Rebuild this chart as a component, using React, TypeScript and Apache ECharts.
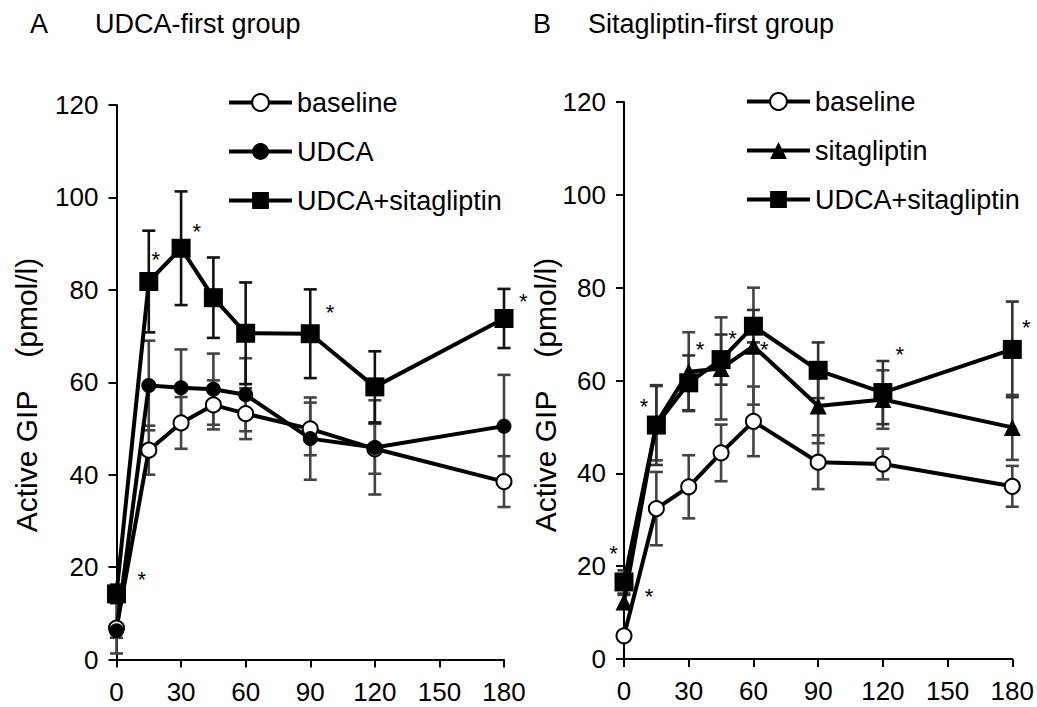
import React, { useEffect, useRef } from "react";
import * as echarts from "echarts";

const FONT = "'Liberation Sans', Arial, sans-serif";

const timePoints = [0, 15, 30, 45, 60, 90, 120, 180];

// Panel A: UDCA-first group
const baselineA = [6.8, 45.3, 51.2, 55.1, 53.2, 49.9, 45.6, 38.5];
const baselineASd = [5.5, 5.3, 5.6, 5.3, 5.5, 5.7, 5.4, 5.5];
const udcaA = [6.2, 59.3, 58.8, 58.5, 57.3, 47.8, 45.9, 50.5];
const udcaASd = [1.5, 9.7, 8.3, 7.7, 7.9, 8.9, 10.2, 11.1];
const comboA = [14.2, 81.8, 89.0, 78.3, 70.6, 70.5, 59.0, 73.8];
const comboASd = [2.0, 11.0, 12.3, 8.7, 11.0, 9.6, 7.7, 6.4];
const starsA = [[18.3, 87.6], [37.3, 93.6], [99.2, 76.1], [189, 78.5], [11.7, 18.3]];

// Panel B: Sitagliptin-first group
const baselineB = [5.0, 32.4, 37.1, 44.4, 51.2, 42.4, 42.0, 37.2];
const baselineBSd = [1.0, 7.9, 6.8, 6.1, 7.5, 5.8, 3.3, 4.4];
const sitaB = [12.3, 50.8, 61.9, 62.6, 67.4, 54.5, 55.9, 49.9];
const sitaBSd = [1.5, 8.0, 8.5, 11.0, 12.6, 8.0, 6.3, 7.0];
const comboB = [16.6, 50.4, 59.5, 64.5, 71.7, 62.2, 57.4, 66.7];
const comboBSd = [2.5, 8.6, 5.9, 5.4, 3.5, 6.0, 6.8, 10.3];
const starsB = [[9.3, 55.5], [35.2, 67.7], [50.3, 70.1], [65, 67.7], [127.8, 66.7], [186.5, 72.4], [-4.9, 23.9], [11.6, 14.6]];

const xMin = 0, xMax = 180, xStep = 30;
const yMin = 0, yMax = 120, yStep = 20;

const legendA = ["baseline", "UDCA", "UDCA+sitagliptin"];
const legendB = ["baseline", "sitagliptin", "UDCA+sitagliptin"];

const pairs = (ys: number[]) => timePoints.map((t, i) => [t, ys[i]]);
const bars = (ys: number[], sd: number[]) => timePoints.map((t, i) => [t, ys[i] - sd[i], ys[i] + sd[i]]);

function lineSeries(name: string, ys: number[], symbol: string, size: number, open: boolean, g: number) {
  return {
    type: "line",
    name,
    data: pairs(ys),
    xAxisIndex: g,
    yAxisIndex: g,
    symbol,
    symbolSize: size,
    showSymbol: true,
    clip: false,
    silent: true,
    color: "#000",
    lineStyle: { color: "#000", width: 4 },
    itemStyle: open
      ? { color: "#fff", borderColor: "#000", borderWidth: 2 }
      : { color: "#000", borderColor: "#000", borderWidth: 0 },
    z: 3,
  };
}

function errSeries(ys: number[], sd: number[], g: number, color: string) {
  return {
    type: "custom",
    xAxisIndex: g,
    yAxisIndex: g,
    silent: true,
    z: 2,
    data: bars(ys, sd),
    encode: { x: 0, y: [1, 2] },
    renderItem: (params: any, api: any) => {
      const x = api.value(0);
      const lo = api.coord([x, api.value(1)]);
      const hi = api.coord([x, api.value(2)]);
      const w = 6.5;
      const st = { stroke: color, lineWidth: 2.6 };
      return {
        type: "group",
        children: [
          { type: "line", shape: { x1: lo[0], y1: lo[1], x2: hi[0], y2: hi[1] }, style: st },
          { type: "line", shape: { x1: lo[0] - w, y1: lo[1], x2: lo[0] + w, y2: lo[1] }, style: st },
          { type: "line", shape: { x1: hi[0] - w, y1: hi[1], x2: hi[0] + w, y2: hi[1] }, style: st },
        ],
      };
    },
  };
}

function starSeries(stars: number[][], g: number) {
  return {
    type: "custom",
    xAxisIndex: g,
    yAxisIndex: g,
    silent: true,
    z: 4,
    clip: false,
    data: stars,
    renderItem: (params: any, api: any) => {
      const p = api.coord([api.value(0), api.value(1)]);
      return {
        type: "text",
        x: p[0],
        y: p[1] + 5,
        style: { text: "*", fontSize: 22, fontFamily: FONT, fill: "#000", align: "center", verticalAlign: "middle" },
      };
    },
  };
}

function xAxis(g: number) {
  return {
    type: "value",
    gridIndex: g,
    min: xMin,
    max: xMax,
    interval: xStep,
    splitLine: { show: false },
    axisLine: { show: true, onZero: false, lineStyle: { color: "#000", width: 2 } },
    axisTick: { show: true, inside: false, length: 8, lineStyle: { color: "#000", width: 2 } },
    axisLabel: { color: "#000", fontSize: 26, fontFamily: FONT, margin: 19 },
  };
}

function yAxis(g: number) {
  return {
    type: "value",
    gridIndex: g,
    min: yMin,
    max: yMax,
    interval: yStep,
    splitLine: { show: false },
    axisLine: { show: true, onZero: false, lineStyle: { color: "#000", width: 2 } },
    axisTick: { show: true, inside: false, length: 8, lineStyle: { color: "#000", width: 2 } },
    axisLabel: { color: "#000", fontSize: 26, fontFamily: FONT, margin: 18 },
  };
}

function legend(data: string[], left: number, top: number) {
  return {
    data,
    orient: "vertical",
    left,
    top,
    padding: 0,
    itemWidth: 63,
    itemHeight: 21,
    itemGap: 22,
    selectedMode: false,
    lineStyle: { width: 4 },
    textStyle: { color: "#000", fontSize: 27, fontFamily: FONT },
  };
}

export default function App() {
  const ref = useRef<HTMLDivElement>(null);
  useEffect(() => {
    if (!ref.current) return;
    const chart = echarts.init(ref.current, null, { renderer: "svg" });
    const textStyle = { fill: "#000", fontFamily: FONT, fontSize: 27 };
    chart.setOption({
      animation: false,
      backgroundColor: "#fff",
      textStyle: { fontFamily: FONT },
      grid: [
        { left: 116.5, top: 105, width: 387.5, height: 554.5 },
        { left: 624, top: 102, width: 388.5, height: 557 },
      ],
      xAxis: [xAxis(0), xAxis(1)],
      yAxis: [yAxis(0), yAxis(1)],
      legend: [legend(legendA, 227, 89), legend(legendB, 745, 88)],
      graphic: [
        { type: "text", left: 30, top: 10, style: { ...textStyle, text: "A" } },
        { type: "text", left: 95, top: 10, style: { ...textStyle, text: "UDCA-first group" } },
        { type: "text", left: 533, top: 10, style: { ...textStyle, text: "B" } },
        { type: "text", left: 588, top: 10, style: { ...textStyle, text: "Sitagliptin-first group" } },
        {
          type: "text", x: 26, y: 395, rotation: Math.PI / 2,
          style: { ...textStyle, fontSize: 30, text: "Active GIP    (pmol/l)", align: "center", verticalAlign: "middle" },
        },
        {
          type: "text", x: 545, y: 395, rotation: Math.PI / 2,
          style: { ...textStyle, fontSize: 30, text: "Active GIP    (pmol/l)", align: "center", verticalAlign: "middle" },
        },
      ],
      series: [
        errSeries(baselineA, baselineASd, 0, "#444"),
        errSeries(udcaA, udcaASd, 0, "#444"),
        errSeries(comboA, comboASd, 0, "#111"),
        lineSeries("baseline", baselineA, "circle", 15, true, 0),
        lineSeries("UDCA", udcaA, "circle", 15, false, 0),
        lineSeries("UDCA+sitagliptin", comboA, "rect", 19, false, 0),
        starSeries(starsA, 0),
        errSeries(baselineB, baselineBSd, 1, "#444"),
        errSeries(sitaB, sitaBSd, 1, "#444"),
        errSeries(comboB, comboBSd, 1, "#333"),
        lineSeries("baseline", baselineB, "circle", 15, true, 1),
        lineSeries("sitagliptin", sitaB, "triangle", 17, false, 1),
        lineSeries("UDCA+sitagliptin", comboB, "rect", 19, false, 1),
        starSeries(starsB, 1),
      ],
    });
    return () => chart.dispose();
  }, []);
  return (
    <div
      ref={ref}
      style={{ position: "fixed", left: 0, top: 0, width: 1037, height: 707, background: "#fff" }}
    />
  );
}
